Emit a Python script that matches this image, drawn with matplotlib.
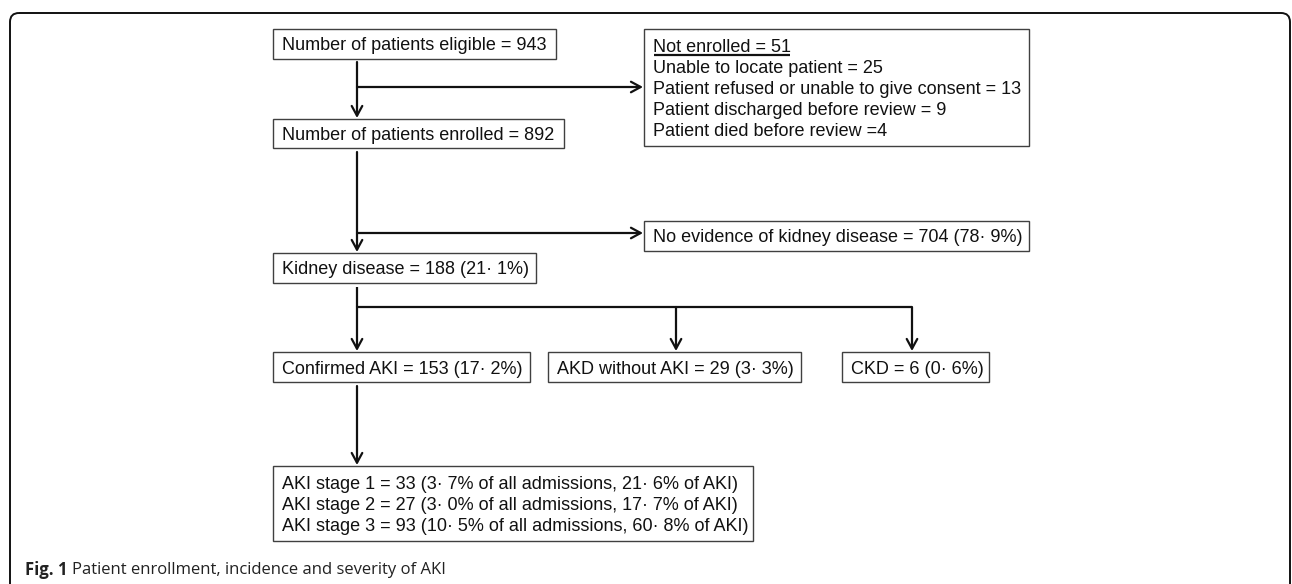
import matplotlib
matplotlib.use('Agg')
import matplotlib.pyplot as plt
from matplotlib.patches import FancyBboxPatch, Rectangle

# flowchart content
eligible = ['Number of patients eligible = 943']
enrolled = ['Number of patients enrolled = 892']
not_enrolled = ['Not enrolled = 51',
                'Unable to locate patient = 25',
                'Patient refused or unable to give consent = 13',
                'Patient discharged before review = 9',
                'Patient died before review =4']
no_kidney = ['No evidence of kidney disease = 704 (78\u00b7 9%)']
kidney = ['Kidney disease = 188 (21\u00b7 1%)']
confirmed_aki = ['Confirmed AKI = 153 (17\u00b7 2%)']
akd = ['AKD without AKI = 29 (3\u00b7 3%)']
ckd = ['CKD = 6 (0\u00b7 6%)']
aki_stages = ['AKI stage 1 = 33 (3\u00b7 7% of all admissions, 21\u00b7 6% of AKI)',
              'AKI stage 2 = 27 (3\u00b7 0% of all admissions, 17\u00b7 7% of AKI)',
              'AKI stage 3 = 93 (10\u00b7 5% of all admissions, 60\u00b7 8% of AKI)']
caption_bold = 'Fig. 1'
caption_text = 'Patient enrollment, incidence and severity of AKI'

# layout in pixels (x0, y0, x1, y1), y measured from top
boxes = [
    (eligible, (273, 29, 556, 59)),
    (enrolled, (273, 119, 564, 148)),
    (not_enrolled, (644, 29, 1029, 146)),
    (no_kidney, (644, 221, 1029, 251)),
    (kidney, (273, 253, 536, 283)),
    (confirmed_aki, (273, 352, 530, 382)),
    (akd, (548, 352, 801, 382)),
    (ckd, (842, 352, 989, 382)),
    (aki_stages, (273, 466, 753, 541)),
]

W, H = 1292, 584
fig = plt.figure(figsize=(W / 100, H / 100), dpi=100)
ax = fig.add_axes([0, 0, 1, 1])
ax.set_xlim(0, W)
ax.set_ylim(H, 0)
ax.axis('off')

font = dict(family=['Liberation Sans', 'DejaVu Sans'], fontsize=13, color='#111111')
line_gap = 21

# outer frame (bottom edge falls outside the image)
frame = FancyBboxPatch((10, 13), 1280, 600, boxstyle='round,pad=0,rounding_size=9',
                       fill=False, lw=1.4, ec='#111111')
ax.add_patch(frame)

texts = {}
for lines, (x0, y0, x1, y1) in boxes:
    ax.add_patch(Rectangle((x0, y0), x1 - x0, y1 - y0, fill=False, lw=1.0, ec='#404040'))
    yc = (y0 + y1) / 2
    n = len(lines)
    for i, s in enumerate(lines):
        y = yc + (i - (n - 1) / 2) * line_gap
        t = ax.text(x0 + 9, y, s, ha='left', va='center_baseline', **font)
        texts[s] = t

# arrows
def arrow(p0, p1):
    ax.annotate('', xy=p1, xytext=p0,
                arrowprops=dict(arrowstyle='->,head_length=0.7,head_width=0.38',
                                mutation_scale=10, lw=1.6, color='#111111',
                                shrinkA=0, shrinkB=0))

def seg(xs, ys):
    ax.plot(xs, ys, color='#111111', lw=1.6, solid_capstyle='butt')

cx = 357
arrow((cx, 62), (cx, 118))
arrow((cx, 87), (643, 87))
arrow((cx, 152), (cx, 252))
arrow((cx, 233), (643, 233))
seg([cx, cx], [287, 307])
seg([cx, 912], [307, 307])
arrow((cx, 307), (cx, 351))
arrow((676, 307), (676, 351))
arrow((912, 307), (912, 351))
arrow((cx, 386), (cx, 465))

# underline the first line of the "not enrolled" box
fig.canvas.draw()
r = fig.canvas.get_renderer()
bb = texts[not_enrolled[0]].get_window_extent(r)
inv = ax.transData.inverted()
(ux0, uy0), (ux1, uy1) = inv.transform([(bb.x0, bb.y0), (bb.x1, bb.y0)])
seg([ux0 + 1, ux1 - 1], [uy0 - 1.5, uy1 - 1.5])

# caption
cap_font = dict(family=['Open Sans', 'DejaVu Sans'], fontsize=12, color='#222222')
tb = ax.text(25, 568, caption_bold, ha='left', va='center_baseline', fontweight='bold', **cap_font)
fig.canvas.draw()
bb = tb.get_window_extent(fig.canvas.get_renderer())
xe = inv.transform([(bb.x1, bb.y0)])[0][0]
ax.text(xe + 5, 568, caption_text, ha='left', va='center_baseline', **cap_font)

fig.savefig('out.png', dpi=100)
